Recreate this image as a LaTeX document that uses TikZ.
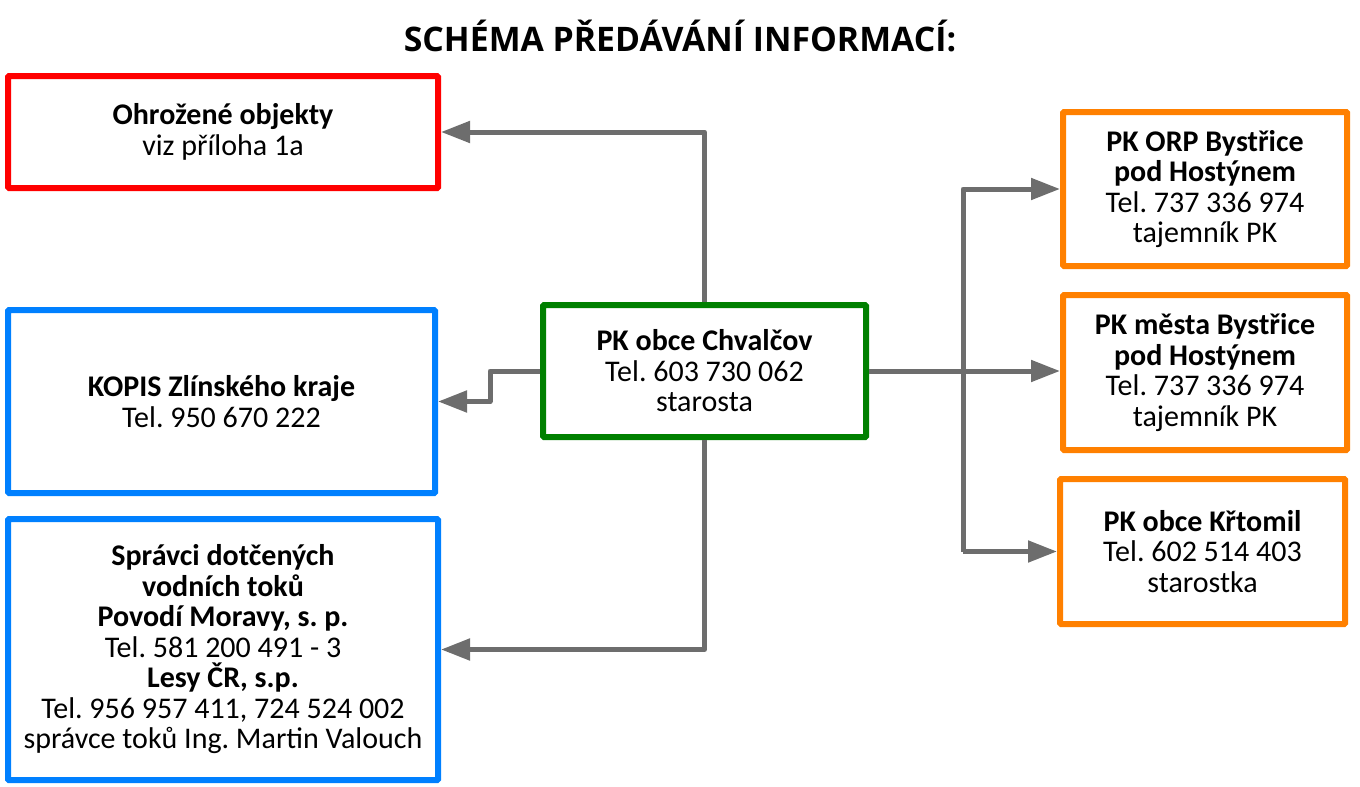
\documentclass[tikz,border=0pt]{standalone}
\usepackage{fontspec}
\setmainfont{Carlito}
\newfontfamily\titlefont{Open Sans}
\usetikzlibrary{arrows.meta}
\definecolor{cred}{RGB}{255,0,0}
\definecolor{cblue}{RGB}{0,128,255}
\definecolor{cgreen}{RGB}{0,128,0}
\definecolor{corange}{RGB}{255,128,0}
\definecolor{cgray}{RGB}{109,109,109}
\frenchspacing
\begin{document}
\begin{tikzpicture}[x=1pt,y=-1pt,
  box/.style={draw=#1,line width=6pt,rounded corners=1pt,fill=white,align=center,inner sep=0pt,
    font=\fontsize{30}{30.5}\selectfont},
  arr/.style={draw=cgray,line width=5pt,line join=round,-{Triangle[length=29pt,width=21pt]}}]
\useasboundingbox (0,0) rectangle (1360,787);
\node[font=\titlefont\bfseries\fontsize{33.8}{36}\selectfont] (title) at (680,36) {SCHÉMA PŘEDÁVÁNÍ INFORMACÍ:};
\node[box=cred,minimum width=430pt,minimum height=112pt] (red) at (223,132) {\textbf{Ohrožené objekty}\\viz příloha 1a};
\node[box=cblue,minimum width=427pt,minimum height=183pt] (kopis) at (221.5,401.5) {\textbf{KOPIS Zlínského kraje}\\Tel. 950 670 222};
\node[box=cblue,minimum width=430pt,minimum height=261pt] (spr) at (223,649.5) {\textbf{Správci dotčených}\\\textbf{vodních toků}\\\textbf{Povodí Moravy, s. p.}\\Tel. 581 200 491 - 3\\\textbf{Lesy ČR, s.p.}\\Tel. 956 957 411, 724 524 002\\správce toků Ing. Martin Valouch};
\node[box=cgreen,minimum width=323pt,minimum height=132pt] (green) at (704.5,371) {\textbf{PK obce Chvalčov}\\Tel. 603 730 062\\starosta};
\node[box=corange,minimum width=284pt,minimum height=154pt] (or1) at (1205,189) {\textbf{PK ORP Bystřice}\\\textbf{pod Hostýnem}\\Tel. 737 336 974\\tajemník PK};
\node[box=corange,minimum width=284pt,minimum height=155pt] (or2) at (1205,372.5) {\textbf{PK města Bystřice}\\\textbf{pod Hostýnem}\\Tel. 737 336 974\\tajemník PK};
\node[box=corange,minimum width=285pt,minimum height=145pt] (or3) at (1202.5,551.5) {\textbf{PK obce Křtomil}\\Tel. 602 514 403\\starostka};
\coordinate (tx) at (963,0);
\coordinate (kx) at (490,0);
\draw[arr] (green.north) |- (red.east);
\draw[arr] (green.west) -- (green.west -| kx) |- (kopis.east);
\draw[arr] (green.south) |- (spr.east);
\draw[arr] (green.east) -- (green.east -| or2.west);
\draw[arr] (tx |- or3.west) |- (or1.west);
\draw[arr] (tx |- or3.west) -- (or3.west);
\end{tikzpicture}
\end{document}
